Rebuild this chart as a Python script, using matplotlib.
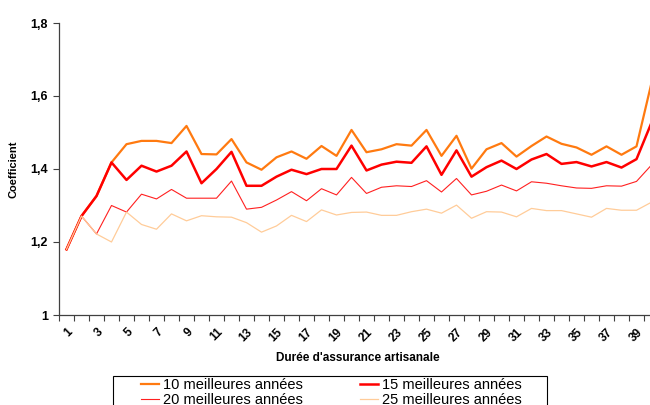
import matplotlib
matplotlib.use('Agg')
import matplotlib.pyplot as plt
from matplotlib.patches import Rectangle
from matplotlib.ticker import FuncFormatter, MultipleLocator

plt.rcParams['font.family'] = ['Liberation Sans', 'DejaVu Sans']

# Durée d'assurance (catégories 1..40)
durees = list(range(1, 41))

# Coefficients
best10 = [1.180, 1.271, 1.326, 1.418, 1.468, 1.477, 1.477, 1.471, 1.518, 1.441,
          1.440, 1.482, 1.418, 1.398, 1.432, 1.448, 1.428, 1.463, 1.436, 1.507,
          1.446, 1.454, 1.468, 1.464, 1.507, 1.436, 1.491, 1.401, 1.454, 1.471,
          1.434, 1.463, 1.489, 1.469, 1.459, 1.439, 1.462, 1.439, 1.462, 1.636]
best15 = [1.180, 1.271, 1.326, 1.418, 1.370, 1.409, 1.393, 1.409, 1.448, 1.361,
          1.400, 1.447, 1.354, 1.354, 1.379, 1.398, 1.386, 1.400, 1.400, 1.464,
          1.396, 1.412, 1.420, 1.417, 1.462, 1.384, 1.451, 1.379, 1.405, 1.423,
          1.400, 1.426, 1.441, 1.414, 1.419, 1.407, 1.419, 1.404, 1.427, 1.527]
best20 = [1.180, 1.271, 1.222, 1.300, 1.282, 1.331, 1.318, 1.344, 1.320, 1.320,
          1.320, 1.367, 1.290, 1.295, 1.315, 1.338, 1.313, 1.346, 1.329, 1.377,
          1.333, 1.350, 1.354, 1.352, 1.368, 1.337, 1.374, 1.329, 1.339, 1.356,
          1.340, 1.365, 1.361, 1.354, 1.348, 1.347, 1.354, 1.353, 1.366, 1.411]
best25 = [1.180, 1.271, 1.222, 1.200, 1.282, 1.248, 1.235, 1.277, 1.258, 1.272,
          1.269, 1.268, 1.253, 1.227, 1.244, 1.273, 1.256, 1.288, 1.274, 1.281,
          1.282, 1.273, 1.273, 1.283, 1.290, 1.279, 1.301, 1.265, 1.283, 1.282,
          1.269, 1.292, 1.286, 1.286, 1.277, 1.268, 1.292, 1.287, 1.287, 1.309]

series_labels = ['10 meilleures années', '15 meilleures années',
                 '20 meilleures années', '25 meilleures années']

fig = plt.figure(figsize=(6.5, 4.05), dpi=100)
# plot area runs a little past the right edge, like the original
ax = fig.add_axes([59 / 650, 90 / 405, 600 / 650, 292 / 405])

l10, = ax.plot(durees, best10, color='#FF7A10', lw=1.6)
l15, = ax.plot(durees, best15, color='#FF0000', lw=1.8)
l20, = ax.plot(durees, best20, color='#FF2020', lw=0.8)
l25, = ax.plot(durees, best25, color='#FFCC99', lw=0.9)

ax.set_xlim(0.5, 40.5)
ax.set_ylim(1.0, 1.8)

# y axis
ax.yaxis.set_major_locator(MultipleLocator(0.2))
ax.yaxis.set_major_formatter(FuncFormatter(
    lambda v, p: '1' if abs(v - 1) < 1e-9 else f'{v:.1f}'.replace('.', ',')))
ax.tick_params(axis='y', direction='out', length=4, width=0.8, color='#404040',
               labelsize=9, pad=4)
for t in ax.get_yticklabels():
    t.set_fontweight('bold')

# x axis: labels on odd categories, tick marks between categories
ax.set_xticks(durees[::2])
ax.set_xticklabels([str(d) for d in durees[::2]], rotation=45, ha='right',
                   rotation_mode='anchor', fontsize=8.5, fontweight='bold')
ax.set_xticks([d + 0.5 for d in range(0, 41)], minor=True)
ax.tick_params(axis='x', which='major', length=0, pad=8)
ax.tick_params(axis='x', which='minor', direction='out', length=4, width=0.8,
               color='#404040')

for side in ['top', 'right']:
    ax.spines[side].set_visible(False)
for side in ['left', 'bottom']:
    ax.spines[side].set_color('#404040')
    ax.spines[side].set_linewidth(0.9)

ax.set_ylabel('Coefficient', fontsize=8, fontweight='bold')
ax.yaxis.set_label_coords(-0.068, 0.5)
ax.set_xlabel("Durée d'assurance artisanale", fontsize=8.5, fontweight='bold')
ax.xaxis.set_label_coords(0.498, -0.128)

# legend box, cut by the bottom of the image
fig.add_artist(Rectangle((113 / 650, -0.05), 434 / 650, 29 / 405 + 0.05,
                         transform=fig.transFigure, fill=False,
                         ec='black', lw=0.8))
fig.legend([l10, l20, l15, l25],
           [series_labels[0], series_labels[2], series_labels[1], series_labels[3]],
           ncol=2, frameon=False, loc='upper left',
           bbox_to_anchor=(141 / 650, 1 - 378 / 405), borderpad=0, borderaxespad=0,
           fontsize=10.5, handlelength=1.25, handletextpad=0.25, columnspacing=3.9,
           labelspacing=0.05)

fig.savefig('out.png', dpi=100)
